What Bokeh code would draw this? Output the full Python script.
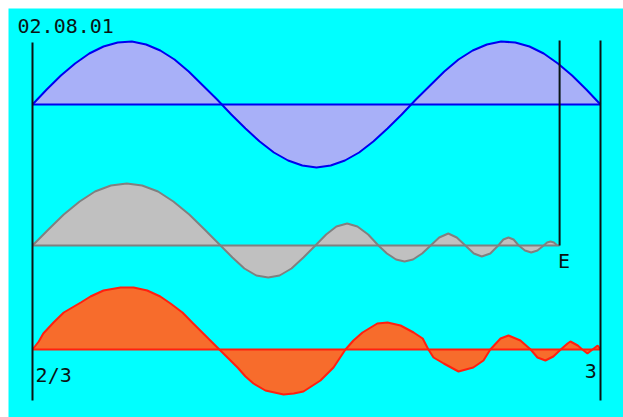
from bokeh.plotting import figure
from bokeh.models import Range1d, Label
from bokeh.embed import file_html
from bokeh.resources import INLINE

# ---- data (x in % of the span between the two outer rules, values in amplitude units) ----
top_x = [0, 2.5, 5, 7.5, 10, 12.5, 15, 17.5, 20, 22.5, 25, 27.5, 30, 32.5, 35, 37.5,
         40, 42.5, 45, 47.5, 50, 52.5, 55, 57.5, 60, 62.5, 65, 67.5, 70, 72.5, 75,
         77.5, 80, 82.5, 85, 87.5, 90, 92.5, 95, 97.5, 100]
top_y = [0, 15, 29, 41, 51, 58, 62, 63, 60, 54, 45, 33, 19, 5, -10, -24, -37, -48,
         -56, -61, -63, -61, -56, -48, -37, -24, -10, 5, 19, 33, 45, 54, 60, 63, 62,
         58, 51, 41, 29, 15, 0]

mid_x = [0, 2.8, 5.5, 8.3, 11.0, 13.8, 16.6, 19.3, 22.1, 24.8, 27.6, 30.3, 33.1,
         35.2, 37.3, 39.4, 41.5, 43.5, 45.6, 47.7, 49.8,
         51.7, 53.5, 55.4, 57.2, 59.1, 60.9,
         62.4, 64.0, 65.5, 67.0, 68.6, 70.1,
         71.6, 73.2, 74.7, 76.2,
         77.7, 79.1, 80.6, 82.0,
         82.9, 83.8, 84.7, 85.6,
         86.7, 87.8, 88.9, 90.0,
         90.6, 91.2, 91.8, 92.4]
mid_y = [0, 16, 31, 44, 54, 60, 62, 60, 54, 44, 31, 16, 0,
         -12, -23, -30, -32, -30, -23, -12, 0,
         11, 19, 22, 19, 11, 0,
         -8, -14, -16, -14, -8, 0,
         8, 12, 8, 0,
         -8, -11, -8, 0,
         6, 8, 6, 0,
         -5, -7, -5, 0,
         3, 4, 3, 0]

bot_x = [0, 1.1, 1.9, 3.7, 5.5, 8.5, 10.2, 12.5, 15.5, 17.8, 20.2, 22.5, 24.3, 26.4,
         28.3, 30.6, 32.9, 34.5, 36.1, 37.5, 38.9, 41.0, 44.2, 46.0, 47.7, 50.7, 53.0,
         55.1, 56.5, 58.1, 60.7, 62.5, 64.8, 67.1, 68.7, 69.7, 70.6, 72.4, 75.0, 77.6,
         79.4, 80.6, 82.4, 83.8, 85.9, 87.7, 88.9, 90.3, 91.7, 93.0, 94.2, 94.7, 96.0,
         96.8, 97.7, 98.6, 99.5, 100]
bot_y = [0, 8, 16, 27, 37, 47, 53, 59, 62, 62, 59, 53, 46, 37,
         26, 13, 0, -9, -18, -27, -34, -41, -45, -44, -42, -31, -18,
         0, 9, 17, 26, 27, 24, 17, 11, 0, -8, -14, -22, -18,
         -11, 0, 11, 14, 9, 0, -8, -11, -7, 0, 6, 8, 4,
         0, -4, 0, 4, 0]

rule_x = [0, 92.8, 100]          # left rule, "E" rule, right rule
date_text = "02.08.01"
left_text = "2/3"
right_text = "3"
end_text = "E"

# ---- figure ----
W, H = 623, 417
p = figure(width=W, height=H, output_backend="svg", toolbar_location=None,
           x_range=Range1d(-4.2254, 104.049), y_range=Range1d(0, 409),
           x_axis_type=None, y_axis_type=None,
           min_border_left=8, min_border_top=8, min_border_right=0, min_border_bottom=0,
           background_fill_color="#00FFFF", border_fill_color="#FFFFFF",
           outline_line_color=None)
p.grid.visible = False
p.extra_y_ranges = {"top": Range1d(-313, 96), "mid": Range1d(-172, 237),
                    "bot": Range1d(-68, 341)}

FONT = "DejaVu Sans Mono"

# top (blue)
p.varea(x=top_x, y1=0, y2=top_y, fill_color="#A8B0F8", y_range_name="top")
p.segment(x0=[top_x[0]], y0=[0], x1=[top_x[-1]], y1=[0], line_color="#0000F0",
          line_width=2, y_range_name="top")
p.line(top_x, top_y, line_color="#0000F0", line_width=2, y_range_name="top")

# middle (gray)
p.varea(x=mid_x, y1=0, y2=mid_y, fill_color="#C0C0C0", y_range_name="mid")
p.segment(x0=[0], y0=[0], x1=[rule_x[1]], y1=[0], line_color="#808080",
          line_width=2, y_range_name="mid")
p.line(mid_x, mid_y, line_color="#808080", line_width=2, y_range_name="mid")

# bottom (orange)
p.varea(x=bot_x, y1=0, y2=bot_y, fill_color="#F76C2C", y_range_name="bot")
p.segment(x0=[bot_x[0]], y0=[0], x1=[bot_x[-1]], y1=[0], line_color="#FF2010",
          line_width=2, y_range_name="bot")
p.line(bot_x, bot_y, line_color="#FF2010", line_width=2, y_range_name="bot")

# vertical rules
p.segment(x0=rule_x, y0=[17, 172, 17], x1=rule_x, y1=[375, 377, 377],
          line_color="#0A1414", line_width=2)

# texts
for txt, x, y, align in [(date_text, -2.64, 392, "left"),
                         (left_text, 0.55, 43, "left"),
                         (end_text, 92.5, 157, "left"),
                         (right_text, 99.35, 47, "right")]:
    p.add_layout(Label(x=x, y=y, text=txt, text_font=FONT, text_font_size="20px",
                       text_color="#0A1414", text_align=align,
                       text_baseline="alphabetic"))

open("out.html", "w").write(file_html(p, INLINE))
